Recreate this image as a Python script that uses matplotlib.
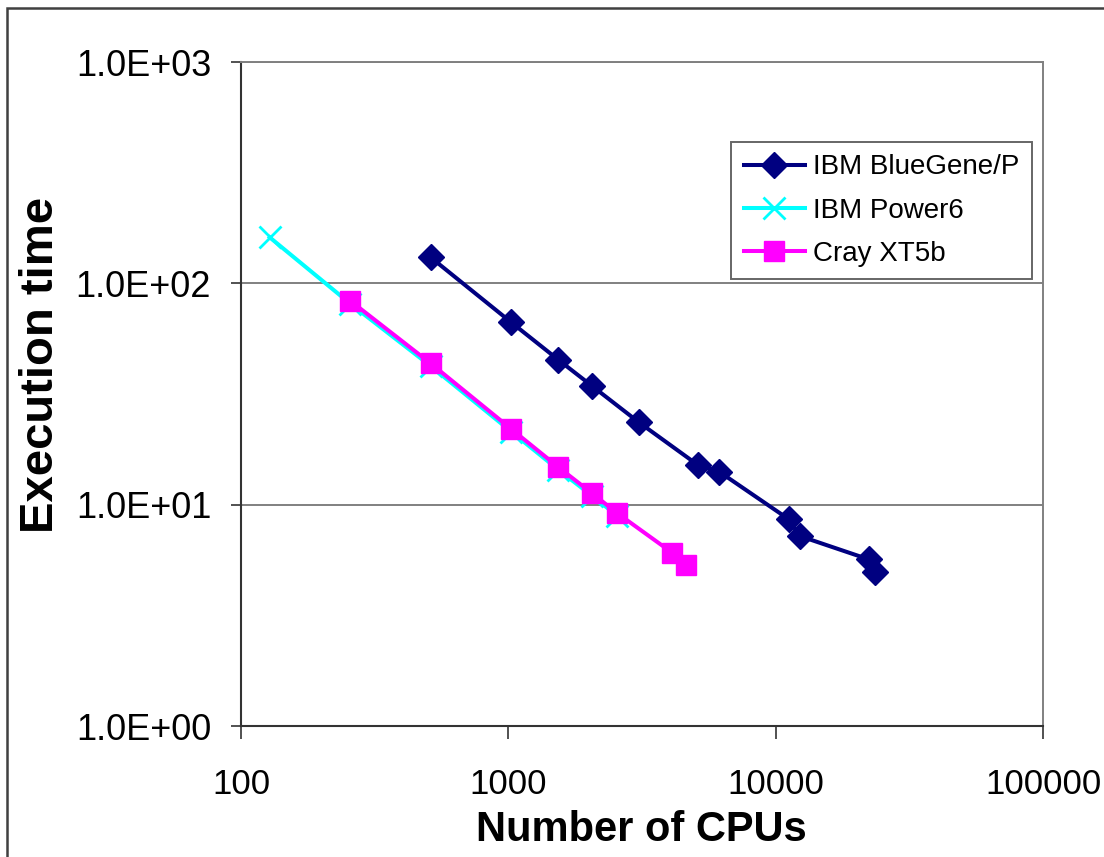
import matplotlib
matplotlib.use('Agg')
import matplotlib.pyplot as plt
from matplotlib.patches import Rectangle

plt.rcParams['font.family'] = ['Liberation Sans', 'DejaVu Sans']

# execution time vs CPU count
bgp_cpus = [512, 1024, 1536, 2048, 3072, 5120, 6144, 11200, 12288, 22300, 23500]
bgp_time = [131.1, 66.7, 45.2, 34.5, 23.6, 15.1, 14.1, 8.59, 7.22, 5.66, 4.98]

p6_cpus = [128, 256, 512, 1024, 1536, 2048, 2560]
p6_time = [161.4, 81.0, 42.3, 21.4, 14.4, 11.0, 8.9]

xt5_cpus = [256, 512, 1024, 1536, 2048, 2560, 4096, 4608]
xt5_time = [83.5, 43.5, 22.0, 14.8, 11.3, 9.14, 6.07, 5.36]

xticks = [100, 1000, 10000, 100000]
xtick_labels = ['100', '1000', '10000', '100000']
yticks = [1, 10, 100, 1000]
ytick_labels = ['1.0E+00', '1.0E+01', '1.0E+02', '1.0E+03']

W, H = 1104, 857
fig = plt.figure(figsize=(W / 100, H / 100), dpi=100)
ax = fig.add_axes([241 / W, 1 - 726 / H, (1043 - 241) / W, (726 - 62) / H])

ax.plot(bgp_cpus, bgp_time, color='#000080', lw=2.9, marker='D', ms=13,
        mec='#000080', label='IBM BlueGene/P', zorder=3)
ax.plot(p6_cpus, p6_time, color='#00FFFF', lw=2.9, marker='x', ms=15.5, mew=2,
        label='IBM Power6', zorder=3)
ax.plot(xt5_cpus, xt5_time, color='#FF00FF', lw=2.9, marker='s', ms=15,
        mec='#FF00FF', label='Cray XT5b', zorder=4)

ax.set_xscale('log')
ax.set_yscale('log')
ax.set_xlim(100, 100000)
ax.set_ylim(1, 1000)
ax.set_xticks(xticks)
ax.set_xticklabels(xtick_labels)
ax.set_yticks(yticks)
ax.set_yticklabels(ytick_labels)
ax.minorticks_off()

ax.tick_params(axis='x', direction='out', length=9, width=1.2, pad=21,
               labelsize=25, color='#333333')
ax.tick_params(axis='y', direction='out', length=7.5, width=1.2, pad=14,
               labelsize=26, color='#333333')

ax.yaxis.grid(True, color='#808080', lw=1.4)
ax.set_axisbelow(True)

for side in ('left', 'bottom'):
    ax.spines[side].set_color('#333333')
    ax.spines[side].set_linewidth(1.5)
for side in ('top', 'right'):
    ax.spines[side].set_color('#808080')
    ax.spines[side].set_linewidth(1.4)

fig.text(641 / W, 1 - 830 / H, 'Number of CPUs', fontsize=30, fontweight='bold',
         ha='center', va='center')
fig.text(41 / W, 1 - 365 / H, 'Execution time', fontsize=34, fontweight='bold',
         ha='center', va='center', rotation=90)

leg = ax.legend(loc='upper left', bbox_to_anchor=(731 / W, 1 - 142 / H),
                bbox_transform=fig.transFigure, borderaxespad=0, fontsize=20,
                frameon=True, fancybox=False, handlelength=2.2, handletextpad=0.3,
                labelspacing=0.62, borderpad=0.45)
leg.get_frame().set_edgecolor('#404040')
leg.get_frame().set_linewidth(1.4)

# outer chart border
fig.patches.append(Rectangle((7 / W, -0.1), 2, 1 - 8 / H + 0.1, transform=fig.transFigure,
                             fill=False, edgecolor='#404040', lw=1.8))

fig.savefig('out.png', dpi=100, facecolor='white')
